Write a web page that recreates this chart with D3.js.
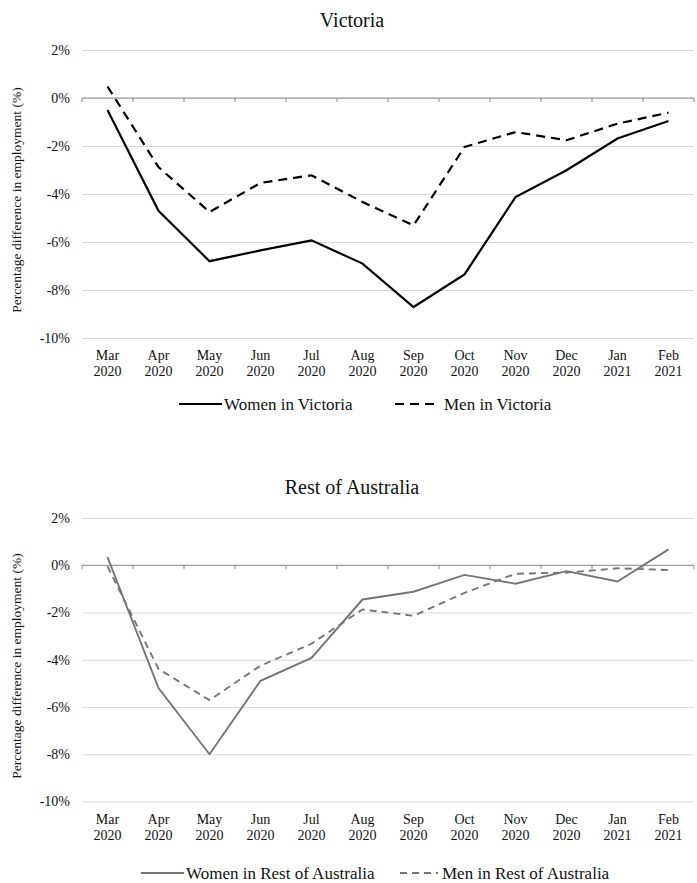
<!DOCTYPE html>
<html>
<head>
<meta charset="utf-8">
<script src="https://cdn.jsdelivr.net/npm/d3@7"></script>
<style>
  html, body { margin: 0; padding: 0; background: #fff; }
  svg { display: block; }
  text { font-family: "Liberation Serif", "Times New Roman", serif; fill: #111; }
</style>
</head>
<body>
<svg id="chart" width="697" height="883"></svg>
<script>
// Monthly labels (two lines each)
const months = ["Mar", "Apr", "May", "Jun", "Jul", "Aug", "Sep", "Oct", "Nov", "Dec", "Jan", "Feb"];
const years  = ["2020", "2020", "2020", "2020", "2020", "2020", "2020", "2020", "2020", "2020", "2021", "2021"];
const yTicks = [2, 0, -2, -4, -6, -8, -10];

// Percentage difference in employment, Victoria
const womenVic = [-0.5, -4.7, -6.8, -6.35, -5.93, -6.9, -8.71, -7.35, -4.13, -3.01, -1.69, -0.96];
const menVic   = [0.48, -2.88, -4.75, -3.54, -3.22, -4.33, -5.31, -2.04, -1.42, -1.76, -1.07, -0.61];

// Percentage difference in employment, rest of Australia
const womenRest = [0.34, -5.2, -8.0, -4.89, -3.92, -1.45, -1.12, -0.41, -0.78, -0.25, -0.69, 0.67];
const menRest   = [-0.05, -4.39, -5.71, -4.25, -3.32, -1.87, -2.14, -1.17, -0.36, -0.31, -0.13, -0.2];

const svg = d3.select("#chart");
const left = 82, right = 694;

const x = d3.scaleBand().domain(d3.range(months.length)).range([left, right]).padding(0);
const cx = i => x(i) + x.bandwidth() / 2;

function panel(cfg) {
  const g = svg.append("g");
  const y = d3.scaleLinear().domain([-10, 2]).range([cfg.bottom, cfg.top]);

  // title
  g.append("text")
    .attr("x", 352).attr("y", cfg.titleY)
    .attr("text-anchor", "middle")
    .attr("dominant-baseline", "central")
    .style("font-size", "20px")
    .text(cfg.title);

  // gridlines + y tick labels
  const yAxis = d3.axisLeft(y).tickValues(yTicks)
    .tickSize(-(right - left)).tickPadding(12)
    .tickFormat(d => d + "%");
  const ga = g.append("g").attr("transform", `translate(${left},0)`).call(yAxis);
  ga.select(".domain").remove();
  ga.selectAll(".tick line").attr("stroke", "#d9d9d9").attr("stroke-width", 1.2);
  ga.selectAll(".tick text")
    .style("font-family", '"Liberation Serif", serif')
    .style("font-size", "14px").attr("fill", "#111");

  // zero axis with downward tick marks at category boundaries
  const y0 = y(0);
  g.append("line").attr("x1", left).attr("x2", right)
    .attr("y1", y0).attr("y2", y0)
    .attr("stroke", "#8c8c8c").attr("stroke-width", 1);
  const bounds = d3.range(months.length + 1).map(i => i < months.length ? x(i) : right);
  g.selectAll(".tk").data(bounds).join("line")
    .attr("x1", d => d).attr("x2", d => d)
    .attr("y1", y0).attr("y2", y0 + 4)
    .attr("stroke", "#8c8c8c").attr("stroke-width", 1);

  // x labels below the plot
  const xl = g.append("g");
  months.forEach((m, i) => {
    const t = xl.append("text")
      .attr("x", cx(i)).attr("text-anchor", "middle")
      .style("font-size", "14px");
    t.append("tspan").attr("x", cx(i)).attr("y", cfg.bottom + 22).text(m);
    t.append("tspan").attr("x", cx(i)).attr("y", cfg.bottom + 38).text(years[i]);
  });

  // y axis title
  g.append("text")
    .attr("transform", `translate(16,${cfg.labelY}) rotate(-90)`)
    .attr("text-anchor", "middle")
    .attr("dominant-baseline", "central")
    .style("font-size", "13.5px")
    .text("Percentage difference in employment (%)");

  // series lines
  const line = d3.line().x((d, i) => cx(i)).y(d => y(d));
  g.append("path").datum(cfg.women).attr("d", line)
    .attr("fill", "none").attr("stroke", cfg.color)
    .attr("stroke-width", cfg.width).attr("stroke-linejoin", "miter");
  g.append("path").datum(cfg.men).attr("d", line)
    .attr("fill", "none").attr("stroke", cfg.color)
    .attr("stroke-width", cfg.width).attr("stroke-dasharray", cfg.dash);

  // legend
  const ly = cfg.legendY;
  g.append("line").attr("x1", cfg.leg[0]).attr("x2", cfg.leg[1])
    .attr("y1", ly).attr("y2", ly)
    .attr("stroke", cfg.color).attr("stroke-width", cfg.width);
  g.append("text").attr("x", cfg.leg[1] + 2).attr("y", ly)
    .attr("dominant-baseline", "central").style("font-size", "17px")
    .text(cfg.womenLabel);
  g.append("line").attr("x1", cfg.leg[2]).attr("x2", cfg.leg[3])
    .attr("y1", ly).attr("y2", ly)
    .attr("stroke", cfg.color).attr("stroke-width", cfg.width)
    .attr("stroke-dasharray", cfg.dash);
  g.append("text").attr("x", cfg.leg[3] + 4).attr("y", ly)
    .attr("dominant-baseline", "central").style("font-size", "17px")
    .text(cfg.menLabel);
}

panel({
  title: "Victoria", titleY: 20, top: 50, bottom: 338, labelY: 200,
  women: womenVic, men: menVic, color: "#000", width: 2.2, dash: "9,6",
  legendY: 404, leg: [179, 222, 395, 440],
  womenLabel: "Women in Victoria", menLabel: "Men in Victoria"
});

panel({
  title: "Rest of Australia", titleY: 487, top: 518, bottom: 801.5, labelY: 666,
  women: womenRest, men: menRest, color: "#767676", width: 1.9, dash: "7,5",
  legendY: 873, leg: [141, 184, 400, 438],
  womenLabel: "Women in Rest of Australia", menLabel: "Men in Rest of Australia"
});
</script>
</body>
</html>
